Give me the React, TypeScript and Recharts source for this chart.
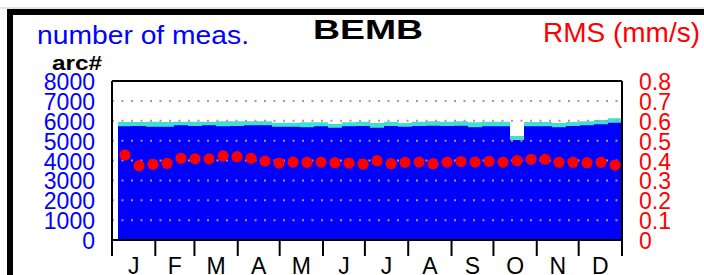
import React from "react";
import {
  ComposedChart,
  Area,
  Scatter,
  XAxis,
  YAxis,
  ReferenceLine,
} from "recharts";

// ---- data ----
const monthLabels = ["J", "F", "M", "A", "M", "J", "J", "A", "S", "O", "N", "D"];
const monthStartDays = [0, 31, 59, 90, 120, 151, 181, 212, 243, 273, 304, 334, 365];
const countTicks = [0, 1000, 2000, 3000, 4000, 5000, 6000, 7000, 8000];
const rmsTicks = [0, 0.1, 0.2, 0.3, 0.4, 0.5, 0.6, 0.7, 0.8];
const gridCounts = [1000, 2000, 3000, 4000, 5000, 6000, 7000];

// 10-day bins through the year
const firstBinDay = 4.3;
const binDays = 10.02;

// total number of arcs (turquoise top)
const totalArcs = [
  5937, 5937, 5954, 5937, 5954, 5954, 5954, 5970, 5970, 5970, 5970, 5903,
  5903, 5920, 5920, 5836, 5920, 5950, 5886, 5954, 5886, 5954, 5970, 5954,
  5970, 5920, 5954, 5954, 5233, 5937, 5937, 5886, 5937, 5970, 6040, 6130,
];
// number of used measurements (blue)
const measuredArcs = [
  5719, 5736, 5702, 5702, 5769, 5736, 5769, 5719, 5736, 5769, 5769, 5702,
  5702, 5669, 5719, 5652, 5719, 5736, 5652, 5736, 5702, 5736, 5753, 5736,
  5753, 5669, 5719, 5719, 5031, 5719, 5719, 5669, 5736, 5769, 5830, 5900,
];
// RMS (mm/s)
const rmsValues = [
  0.428, 0.374, 0.381, 0.386, 0.411, 0.408, 0.408, 0.423, 0.419, 0.411, 0.397, 0.387,
  0.392, 0.391, 0.392, 0.389, 0.387, 0.382, 0.399, 0.384, 0.391, 0.392, 0.384, 0.392,
  0.395, 0.392, 0.396, 0.392, 0.399, 0.406, 0.406, 0.391, 0.391, 0.389, 0.391, 0.377,
];

const monthMids = monthLabels.map((_, i) => (monthStartDays[i] + monthStartDays[i + 1]) / 2);
const xTicks = [...monthStartDays, ...monthMids].sort((a, b) => a - b);

const areaData = totalArcs.map((t, i) => ({
  day: firstBinDay + i * binDays,
  total: t,
  meas: measuredArcs[i],
}));
areaData.push({
  day: 365,
  total: totalArcs[totalArcs.length - 1],
  meas: measuredArcs[measuredArcs.length - 1],
});

const dotData = rmsValues.map((r, i) => ({
  day: firstBinDay + (i + 0.5) * binDays,
  rms: r,
}));

const FONT = "'Liberation Sans', Arial, Helvetica, sans-serif";

const XTick = (props: any) => {
  const { x, y, payload } = props;
  const v = payload.value;
  if (monthStartDays.includes(v)) {
    return <line x1={x} x2={x} y1={y} y2={y + 16} stroke="#000" strokeWidth={2} />;
  }
  const mi = monthMids.indexOf(v);
  return (
    <text x={x} y={y + 34} textAnchor="middle" fontFamily={FONT} fontSize={23} fill="#000">
      {monthLabels[mi]}
    </text>
  );
};

const LeftTick = (props: any) => {
  const { x, y, payload } = props;
  return (
    <text x={x - 17} y={y + 9} textAnchor="end" fontFamily={FONT} fontSize={23} fill="#0000ff">
      {String(payload.value)}
    </text>
  );
};

const RightTick = (props: any) => {
  const { x, y, payload } = props;
  const v = payload.value;
  return (
    <text x={x + 17} y={y + 9} textAnchor="start" fontFamily={FONT} fontSize={23} fill="#ff0000">
      {v === 0 ? "0" : v.toFixed(1)}
    </text>
  );
};

const Dot = (props: any) => {
  const { cx, cy } = props;
  return <circle cx={cx} cy={cy} r={5.6} fill="#ff0000" />;
};

export default function App() {
  return (
    <div style={{ position: "absolute", left: 0, top: 0, width: 704, height: 275, background: "#fff", overflow: "hidden" }}>
      <ComposedChart
        width={704}
        height={275}
        data={areaData}
        margin={{ top: 81, right: 0, bottom: 0, left: 0 }}
      >
        <XAxis
          xAxisId="x"
          dataKey="day"
          type="number"
          domain={[0, 365]}
          ticks={xTicks}
          interval={0}
          height={35}
          tickSize={0}
          tickMargin={0}
          tickLine={false}
          axisLine={false}
          tick={<XTick />}
          allowDataOverflow
        />
        <YAxis
          yAxisId="l"
          orientation="left"
          width={112}
          domain={[0, 8000]}
          ticks={countTicks}
          interval={0}
          tickSize={0}
          tickMargin={0}
          tickLine={false}
          axisLine={false}
          tick={<LeftTick />}
          allowDataOverflow
        />
        <YAxis
          yAxisId="r"
          orientation="right"
          width={82}
          domain={[0, 0.8]}
          ticks={rmsTicks}
          interval={0}
          tickSize={0}
          tickMargin={0}
          tickLine={false}
          axisLine={false}
          tick={<RightTick />}
          allowDataOverflow
        />
        <Area
          xAxisId="x"
          yAxisId="l"
          type="stepAfter"
          dataKey="total"
          fill="#40e0d0"
          fillOpacity={1}
          stroke="none"
          isAnimationActive={false}
        />
        <Area
          xAxisId="x"
          yAxisId="l"
          type="stepAfter"
          dataKey="meas"
          fill="#0000ff"
          fillOpacity={1}
          stroke="none"
          isAnimationActive={false}
        />
        {gridCounts.map((g) => (
          <ReferenceLine
            key={g}
            xAxisId="x"
            yAxisId="l"
            y={g}
            stroke="#bc8f8f"
            strokeWidth={2}
            strokeDasharray="2 7.5"
          />
        ))}
        <Scatter
          xAxisId="x"
          yAxisId="r"
          data={dotData}
          dataKey="rms"
          shape={<Dot />}
          isAnimationActive={false}
        />
        <ReferenceLine xAxisId="x" yAxisId="l" y={0} stroke="#000" strokeWidth={2} />
        <ReferenceLine xAxisId="x" yAxisId="l" y={8000} stroke="#000" strokeWidth={2} />
        <ReferenceLine xAxisId="x" yAxisId="l" x={0} stroke="#000" strokeWidth={2} />
        <ReferenceLine xAxisId="x" yAxisId="l" x={365} stroke="#000" strokeWidth={2} />
      </ComposedChart>
      <svg
        width={704}
        height={275}
        style={{ position: "absolute", left: 0, top: 0, pointerEvents: "none" }}
      >
        <rect x={0} y={7.5} width={704} height={1} fill="#cccccc" />
        <rect x={7} y={9} width={697} height={6} fill="#000" />
        <rect x={7} y={9} width={6} height={266} fill="#000" />
        <text x={37} y={43.5} fontFamily={FONT} fontSize={25} fill="#0000ff" textLength={212} lengthAdjust="spacingAndGlyphs">
          number of meas.
        </text>
        <text x={313} y={38.5} fontFamily={FONT} fontSize={28} fontWeight="bold" fill="#000" textLength={110} lengthAdjust="spacingAndGlyphs">
          BEMB
        </text>
        <text x={543} y={41.7} fontFamily={FONT} fontSize={28} fill="#ff0000" textLength={157} lengthAdjust="spacingAndGlyphs">
          RMS (mm/s)
        </text>
        <text x={52} y={69.5} fontFamily={FONT} fontSize={20} fontWeight="bold" fill="#000" textLength={50} lengthAdjust="spacingAndGlyphs">
          arc#
        </text>
      </svg>
    </div>
  );
}
